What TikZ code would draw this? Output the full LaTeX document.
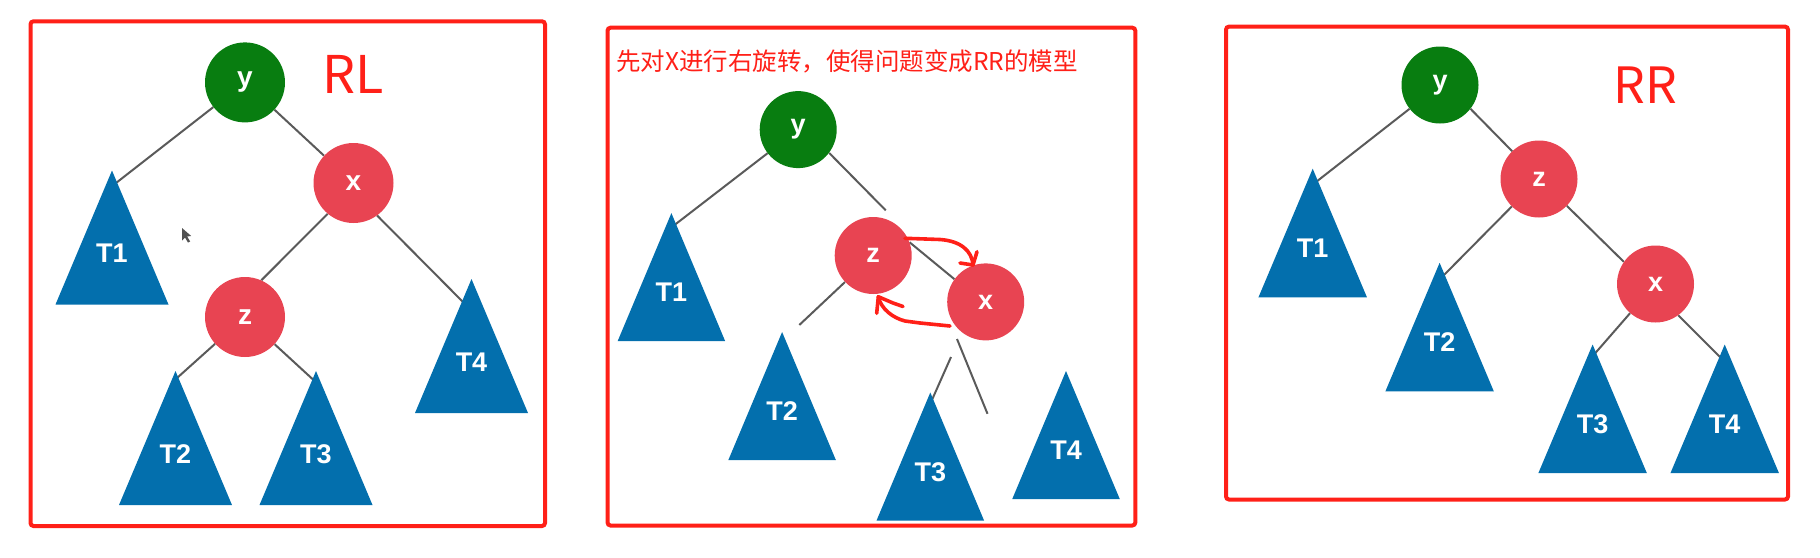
\documentclass[tikz,border=0pt]{standalone}
\usepackage{fontspec}
\setmainfont{Liberation Sans}
\newfontfamily\cjk{Noto Sans CJK SC}
\usetikzlibrary{calc}
\definecolor{ngreen}{HTML}{087D10}
\definecolor{nred}{HTML}{E84452}
\definecolor{tblue}{HTML}{036FAD}
\definecolor{egray}{HTML}{5A5A5A}
\definecolor{ared}{HTML}{FF2018}
\pgfdeclarelayer{bg}
\pgfsetlayers{bg,main}
\tikzset{
  panel/.style={draw=ared, line width=4pt, rounded corners=3pt},
  bignode/.style={circle, inner sep=0pt, minimum size=80pt, text=white, font=\bfseries\fontsize{28}{28}\selectfont},
  smallnode/.style={circle, inner sep=0pt, minimum size=77pt, text=white, font=\bfseries\fontsize{27}{27}\selectfont},
  gn/.style={fill=ngreen},
  rn/.style={fill=nred},
  edge/.style={draw=egray, line width=2pt},
  tlabel/.style={text=white, inner sep=0pt, font=\bfseries\fontsize{27}{27}\selectfont},
  redtext/.style={text=ared, inner sep=0pt},
  annot/.style={draw=ared, line width=3.6pt, line cap=round, line join=round},
}
% name, apex x, apex y, width, height, label
\newcommand\subtree[6]{%
  \coordinate (#1) at (#2,#3);
  \fill[tblue] (#1) -- ++(-#4/2,#5) -- ++(#4,0) -- cycle;
  \node[tlabel] (#1-label) at ($(#1)+(0,0.62*#5)$) {#6};
}
\begin{document}
\begin{tikzpicture}[x=1pt,y=-1pt]
\useasboundingbox (0,0) rectangle (1820,557);

% ---------------- Panel 1 : RL ----------------
\draw[panel] (30.5,21.3) rectangle (545,526);
\node[redtext, font=\cjk\fontsize{52}{52}\selectfont] (a-title) at (353,74) {RL};
\node[bignode,gn] (a-y) at (245,82.4) {y};
\node[bignode,rn] (a-x) at (353.5,183) {x};
\node[bignode,rn] (a-z) at (245,317) {z};
\subtree{a-T1}{112}{170.5}{113}{134}{T1}
\subtree{a-T4}{471.5}{279}{113}{134}{T4}
\subtree{a-T2}{175.5}{371}{113}{134}{T2}
\subtree{a-T3}{316}{371}{113}{134}{T3}
\coordinate (a-e1) at (116,183);
\coordinate (a-e4) at (464,303);
\coordinate (a-e2) at (177,378);
\coordinate (a-e3) at (313,379.5);
\begin{pgfonlayer}{bg}
\draw[edge] (a-y) -- (a-e1);
\draw[edge] (a-y) -- (a-x);
\draw[edge] (a-x.230) -- (a-z.66);
\draw[edge] (a-x.-54) -- (a-e4);
\draw[edge] (a-z) -- (a-e2);
\draw[edge] (a-z) -- (a-e3);
\end{pgfonlayer}
% mouse pointer
\coordinate (a-cur) at (182,228);
\fill[black!85, opacity=0.8] (a-cur) -- ++(0,12.5) -- ++(3,-3) -- ++(3,5) -- ++(2.2,-1) -- ++(-3,-5) -- ++(4,-0.5) -- cycle;

% ---------------- Panel 2 ----------------
\draw[panel] (607.5,27.7) rectangle (1135.3,525.5);
\node[redtext, anchor=base west, font=\cjk\fontsize{24.5}{24.5}\selectfont] (b-note) at (616,70) {先对X进行右旋转，使得问题变成RR的模型};
\node[smallnode,gn] (b-y) at (798.2,129.6) {y};
\node[smallnode,rn] (b-z) at (873.2,255.5) {z};
\node[smallnode,rn] (b-x) at (985.7,301.9) {x};
\subtree{b-T1}{671.4}{213.1}{107.5}{128}{T1}
\subtree{b-T2}{782.1}{332}{107.5}{128}{T2}
\subtree{b-T3}{930.3}{392.5}{107.5}{128}{T3}
\subtree{b-T4}{1066}{371}{107.5}{128}{T4}
\coordinate (b-e1) at (674.5,225);
\coordinate (b-yfree) at (885.7,210.3);
\coordinate (b-zfree) at (799.3,325);
\coordinate (b-xs1) at (951,357);
\coordinate (b-xe1) at (932.1,399.6);
\coordinate (b-xs2) at (957,339);
\coordinate (b-xe2) at (987.5,413.8);
\begin{pgfonlayer}{bg}
\draw[edge] (b-y) -- (b-e1);
\draw[edge] (b-y.-37) -- (b-yfree);
\draw[edge] (b-z.20) -- (b-x.144);
\draw[edge] (b-z) -- (b-zfree);
\draw[edge] (b-xs1) -- (b-xe1);
\draw[edge] (b-xs2) -- (b-xe2);
\end{pgfonlayer}
% hand-drawn rotation arrows
\coordinate (b-a1s) at (905,238.3);
\coordinate (b-a1t) at (973,265);
\draw[annot] (b-a1s) -- (940,239.5) .. controls (961,241) and (972,251) .. (b-a1t);
\draw[annot] (960,263) -- (b-a1t) -- (977,251.7);
\coordinate (b-a2s) at (950,326);
\coordinate (b-a2t) at (878.3,296.7);
\draw[annot] (b-a2s) -- (920,323) -- (905,321) .. controls (893,318) and (881,309) .. (b-a2t);
\draw[annot] (876.7,313.3) -- (b-a2t) -- (893,303) -- (903,306.5);

% ---------------- Panel 3 : RR ----------------
\draw[panel] (1226,26.6) rectangle (1788,499.5);
\node[redtext, font=\cjk\fontsize{50}{50}\selectfont] (c-title) at (1645,85.3) {RR};
\node[smallnode,gn] (c-y) at (1440,85) {y};
\node[smallnode,rn] (c-z) at (1539,179) {z};
\node[smallnode,rn] (c-x) at (1655.5,284) {x};
\subtree{c-T1}{1312.7}{168.7}{108.5}{128.6}{T1}
\subtree{c-T2}{1439.6}{262.8}{108.5}{128.6}{T2}
\subtree{c-T3}{1592.6}{344.5}{108.5}{128.6}{T3}
\subtree{c-T4}{1724.7}{344.5}{108.5}{128.6}{T4}
\coordinate (c-e1) at (1316,182);
\coordinate (c-e2) at (1443,276);
\coordinate (c-e3) at (1594.5,354);
\coordinate (c-e4) at (1721,358);
\begin{pgfonlayer}{bg}
\draw[edge] (c-y) -- (c-e1);
\draw[edge] (c-y.-38) -- (c-z.134);
\draw[edge] (c-z) -- (c-e2);
\draw[edge] (c-z.-44) -- (c-x.145);
\draw[edge] (c-x) -- (c-e3);
\draw[edge] (c-x.-54) -- (c-e4);
\end{pgfonlayer}
\end{tikzpicture}
\end{document}
